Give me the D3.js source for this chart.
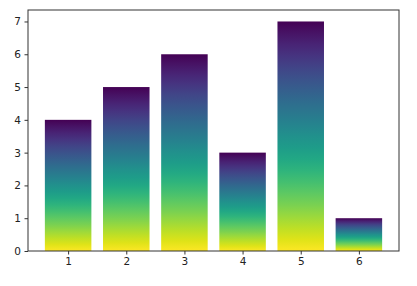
<!DOCTYPE html>
<html>
<head>
<meta charset="utf-8">
<script src="https://cdn.jsdelivr.net/npm/d3@7"></script>
<style>
  body { margin: 0; background: #fff; }
  svg text { font-family: "DejaVu Sans", sans-serif; }
</style>
</head>
<body>
<div id="chart"></div>
<script>
// bar positions and heights
var categories = [1, 2, 3, 4, 5, 6];
var values = [4, 5, 6, 3, 7, 1];
var yTicks = [0, 1, 2, 3, 4, 5, 6, 7];

var W = 417, H = 286;
var margin = {top: 10, right: 18, bottom: 35, left: 28};

var svg = d3.select('#chart').append('svg')
    .attr('width', W)
    .attr('height', H);

var x = d3.scaleLinear()
    .domain([0.31, 6.69])
    .range([margin.left, W - margin.right]);

var y = d3.scaleLinear()
    .domain([0, 7.35])
    .range([H - margin.bottom, margin.top]);

var barW = 0.8;

// viridis gradient, purple at top and yellow at bottom of each bar
var defs = svg.append('defs');
var grad = defs.append('linearGradient')
    .attr('id', 'vir')
    .attr('x1', 0).attr('y1', 0)
    .attr('x2', 0).attr('y2', 1);
d3.range(0, 1.0001, 0.05).forEach(function(t) {
    grad.append('stop')
        .attr('offset', t)
        .attr('stop-color', d3.interpolateViridis(t));
});

svg.append('g')
    .selectAll('rect')
    .data(categories)
    .enter()
    .append('rect')
    .attr('x', function(d) { return x(d - barW / 2); })
    .attr('width', function(d) { return x(d + barW / 2) - x(d - barW / 2); })
    .attr('y', function(d, i) { return y(values[i]); })
    .attr('height', function(d, i) { return y(0) - y(values[i]); })
    .attr('fill', 'url(#vir)');

// frame
svg.append('rect')
    .attr('x', margin.left)
    .attr('y', margin.top)
    .attr('width', W - margin.right - margin.left)
    .attr('height', H - margin.bottom - margin.top)
    .attr('fill', 'none')
    .attr('stroke', '#333')
    .attr('stroke-width', 1);

var xAxis = svg.append('g')
    .attr('transform', 'translate(0,' + (H - margin.bottom) + ')')
    .call(d3.axisBottom(x).tickValues(categories).tickFormat(d3.format('d'))
        .tickSize(3.5).tickPadding(3.5));

var yAxis = svg.append('g')
    .attr('transform', 'translate(' + margin.left + ',0)')
    .call(d3.axisLeft(y).tickValues(yTicks).tickFormat(d3.format('d'))
        .tickSize(3.5).tickPadding(3.5));

[xAxis, yAxis].forEach(function(a) {
    a.select('.domain').remove();
    a.selectAll('line').attr('stroke', '#333');
    a.selectAll('text')
        .attr('fill', '#222')
        .style('font-size', '10.5px');
});
</script>
</body>
</html>
